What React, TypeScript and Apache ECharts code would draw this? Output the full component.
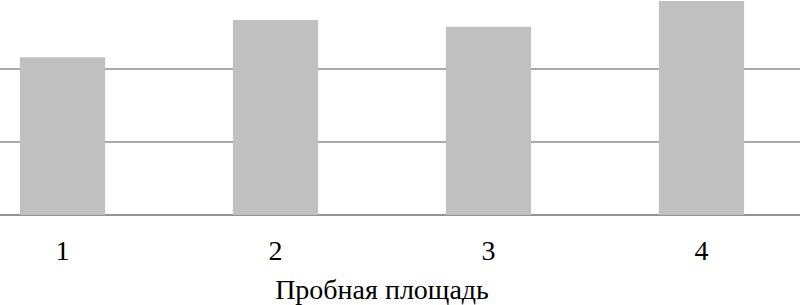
import React, { useEffect, useRef } from "react";
import * as echarts from "echarts";

const categories = ["1", "2", "3", "4"];
const values = [2.16, 2.67, 2.58, 2.93];
const axisTitle = "Пробная площадь";

const FONT = "Liberation Serif";

export default function App() {
  const ref = useRef<HTMLDivElement>(null);
  useEffect(() => {
    if (!ref.current) return;
    const chart = echarts.init(ref.current, null, { renderer: "svg" });
    chart.setOption({
      animation: false,
      backgroundColor: "#ffffff",
      textStyle: { fontFamily: FONT },
      grid: { left: 0, right: 0, top: -4, bottom: 90, containLabel: false, outerBoundsMode: "none" },
      xAxis: {
        type: "category",
        data: categories,
        name: axisTitle,
        nameLocation: "middle",
        nameGap: 60,
        nameTextStyle: { fontFamily: FONT, fontSize: 28, color: "#000" },
        axisLine: { show: true, lineStyle: { color: "#8c8c8c", width: 1.5 } },
        axisTick: { show: false },
        axisLabel: { fontFamily: FONT, fontSize: 28, color: "#000", margin: 21 },
      },
      yAxis: {
        type: "value",
        min: 0,
        max: 3,
        interval: 1,
        axisLabel: { show: false },
        axisLine: { show: false },
        axisTick: { show: false },
        splitLine: { show: true, lineStyle: { color: "#8c8c8c", width: 1.5 } },
      },
      series: [
        {
          type: "bar",
          data: values,
          barWidth: "40%",
          itemStyle: { color: "#c0c0c0" },
        },
      ],
    });
    return () => chart.dispose();
  }, []);
  return (
    <div style={{ position: "absolute", left: 0, top: 0, width: 800, height: 305, overflow: "hidden", background: "#fff" }}>
      <div ref={ref} style={{ position: "absolute", left: -44, top: 0, width: 852, height: 305 }} />
    </div>
  );
}
